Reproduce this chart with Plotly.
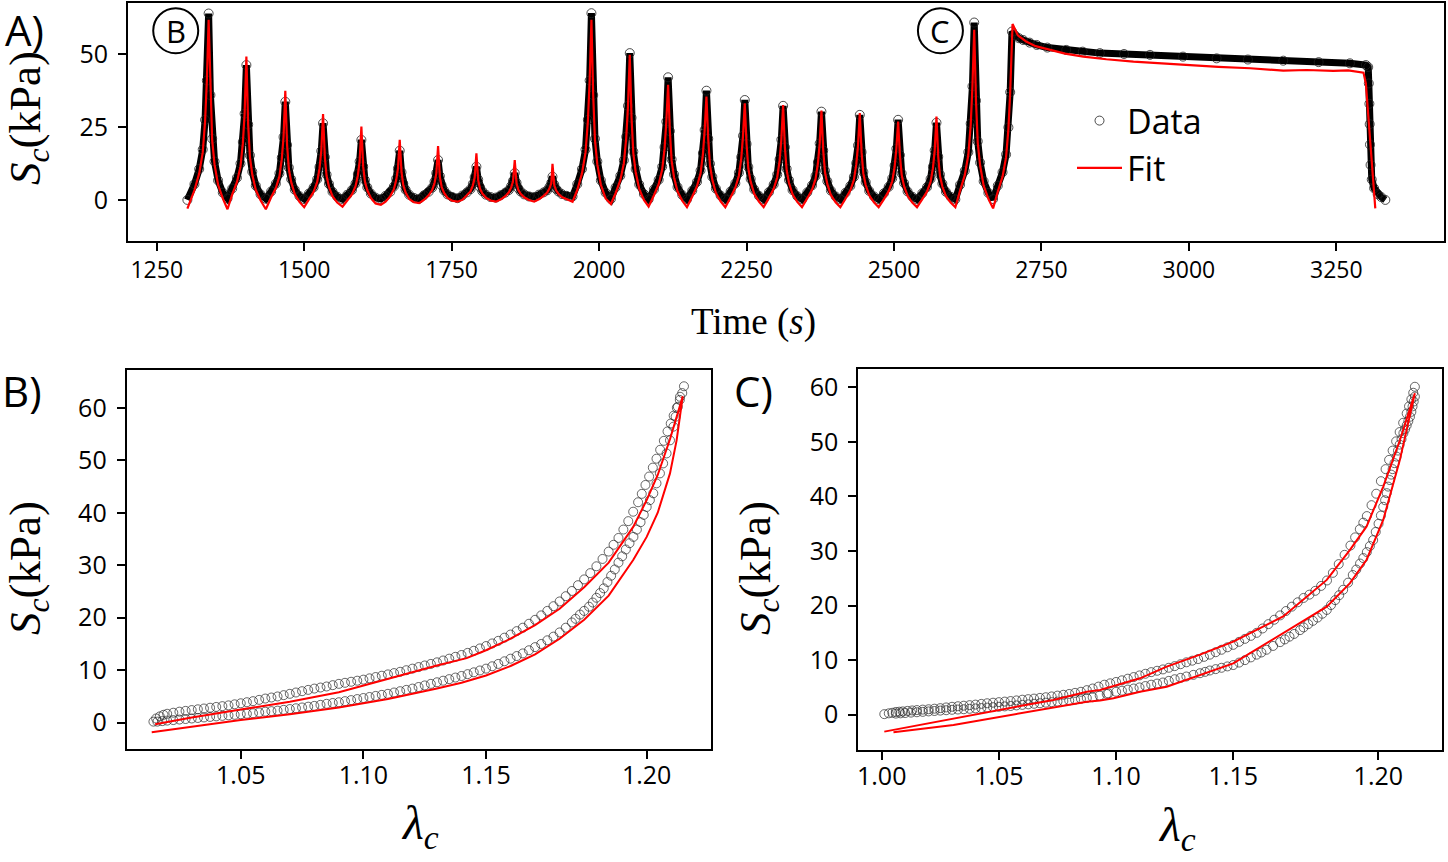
import plotly.graph_objects as go

W, H = 1448, 862

# ---------------- Panel A : stress vs time ----------------
time_data = [
    1302, 1314, 1322, 1328, 1332, 1335, 1338, 1341, 1344, 1348, 1354, 1362, 1370,
    1378, 1386, 1392, 1396, 1399, 1402, 1405, 1408, 1412, 1418, 1426, 1435,
    1444, 1452, 1458, 1462, 1465, 1468, 1471, 1474, 1478, 1484, 1492, 1500,
    1508, 1516, 1522, 1526, 1529, 1532, 1535, 1538, 1542, 1548, 1556, 1565,
    1573, 1581, 1587, 1591, 1594, 1597, 1600, 1603, 1607, 1613, 1621, 1630,
    1638, 1646, 1652, 1656, 1659, 1662, 1665, 1668, 1672, 1678, 1686, 1695,
    1703, 1711, 1717, 1721, 1724, 1727, 1730, 1733, 1737, 1743, 1751, 1760,
    1768, 1776, 1782, 1786, 1789, 1792, 1795, 1798, 1802, 1808, 1816, 1825,
    1833, 1841, 1847, 1851, 1854, 1857, 1860, 1863, 1867, 1873, 1881, 1890,
    1898, 1906, 1912, 1916, 1919, 1921, 1924, 1927, 1931, 1937, 1945, 1955,
    1963, 1971, 1977, 1981, 1984, 1987, 1990, 1993, 1997, 2003, 2011, 2020,
    2028, 2036, 2042, 2046, 2049, 2052, 2055, 2058, 2062, 2068, 2076, 2084,
    2093, 2101, 2107, 2111, 2114, 2117, 2120, 2123, 2127, 2133, 2141, 2149,
    2158, 2166, 2172, 2176, 2179, 2182, 2185, 2188, 2192, 2198, 2206, 2214,
    2223, 2231, 2237, 2241, 2244, 2247, 2250, 2253, 2257, 2263, 2271, 2279,
    2288, 2296, 2302, 2306, 2309, 2312, 2315, 2318, 2322, 2328, 2336, 2344,
    2353, 2361, 2367, 2371, 2374, 2377, 2380, 2383, 2387, 2393, 2401, 2409,
    2418, 2426, 2432, 2436, 2439, 2442, 2445, 2448, 2452, 2458, 2466, 2474,
    2483, 2491, 2497, 2501, 2504, 2507, 2510, 2513, 2517, 2523, 2531, 2539,
    2548, 2556, 2562, 2566, 2569, 2572, 2575, 2578, 2582, 2588, 2596, 2604,
    2612, 2620, 2626, 2630, 2633, 2636, 2639, 2642, 2646, 2652, 2660, 2668,
    2676, 2684, 2690, 2694, 2697, 2700,
    2705, 2712, 2719, 2730, 2742, 2760, 2792, 2820, 2849, 2890, 2934, 2990,
    3047, 3100, 3160, 3220, 3273, 3300, 3304,
    3305, 3306, 3306.5, 3307, 3308, 3310, 3314, 3320, 3326, 3333,
]
stress_data = [
    0.0, 5.4, 10.6, 17.3, 27.5, 41.0, 64.0, 36.0, 21.0, 13.2, 6.7, 2.5, 0.5,
    3.9, 7.6, 12.5, 19.9, 29.6, 46.3, 25.9, 15.3, 9.7, 4.9, 1.9, 0.4,
    2.9, 5.6, 9.1, 14.5, 21.6, 33.7, 18.9, 11.1, 7.1, 3.5, 1.3, 0.3,
    2.2, 4.3, 7.1, 11.3, 16.8, 26.3, 14.7, 8.7, 5.5, 2.8, 1.1, 0.3,
    1.8, 3.4, 5.6, 8.9, 13.2, 20.6, 11.5, 6.8, 4.3, 2.2, 0.8, 0.3,
    1.4, 2.8, 4.6, 7.3, 10.8, 16.9, 9.5, 5.6, 3.5, 1.8, 0.7, 0.4,
    1.6, 2.8, 4.2, 6.3, 9.2, 13.7, 8.2, 5.0, 3.3, 1.9, 1.0, 0.6,
    1.5, 2.6, 3.7, 5.5, 7.8, 11.4, 7.0, 4.4, 3.0, 1.8, 1.0, 0.8,
    1.6, 2.5, 3.4, 4.8, 6.5, 9.2, 5.9, 4.0, 2.9, 1.9, 1.2, 1.0,
    1.8, 2.6, 3.3, 4.5, 5.9, 8.0, 5.3, 3.8, 2.9, 2.0, 1.4, 1.2,
    5.4, 10.6, 17.3, 27.5, 41.0, 64.1, 36.0, 21.0, 13.2, 6.7, 2.5, 0.3,
    4.3, 8.3, 13.6, 21.7, 32.3, 50.4, 28.2, 16.6, 10.6, 5.3, 2.0, 0.2,
    3.6, 6.9, 11.4, 18.1, 26.9, 42.1, 23.6, 13.9, 8.8, 4.4, 1.7, 0.2,
    3.2, 6.2, 10.1, 16.1, 24.0, 37.5, 21.0, 12.4, 7.9, 3.9, 1.5, 0.2,
    2.9, 5.7, 9.3, 14.7, 22.0, 34.3, 19.2, 11.3, 7.2, 3.6, 1.4, 0.2,
    2.7, 5.3, 8.7, 13.9, 20.7, 32.3, 18.1, 10.7, 6.8, 3.4, 1.3, 0.2,
    2.6, 5.0, 8.2, 13.0, 19.4, 30.3, 17.0, 10.0, 6.4, 3.2, 1.2, 0.2,
    2.5, 4.8, 7.9, 12.6, 18.7, 29.2, 16.4, 9.6, 6.1, 3.1, 1.2, 0.2,
    2.3, 4.5, 7.4, 11.8, 17.6, 27.5, 15.4, 9.1, 5.8, 2.9, 1.1, 0.2,
    2.3, 4.4, 7.2, 11.4, 17.0, 26.5, 14.8, 8.7, 5.6, 2.8, 1.1, 0.2,
    5.2, 10.0, 16.4, 26.2, 39.0, 60.9, 34.1, 20.1, 12.8, 6.4, 2.4, 0.3,
    4.9, 9.5, 15.6, 24.9, 37.0, 57.8,
    56.5, 55.5, 54.9, 54.0, 53.2, 52.3, 51.5, 50.9, 50.4, 50.1, 49.8, 49.2,
    48.6, 48.2, 47.8, 47.3, 46.9, 46.3, 45.6,
    40.0, 33.0, 26.0, 19.0, 12.0, 7.0, 4.0, 2.0, 1.0, 0.0,
]
time_fit = [
    1302, 1314, 1322, 1328, 1332, 1335, 1338, 1341, 1344, 1348, 1354, 1362, 1370,
    1378, 1386, 1392, 1396, 1399, 1402, 1405, 1408, 1412, 1418, 1426, 1435,
    1444, 1452, 1458, 1462, 1465, 1468, 1471, 1474, 1478, 1484, 1492, 1500,
    1508, 1516, 1522, 1526, 1529, 1532, 1535, 1538, 1542, 1548, 1556, 1565,
    1573, 1581, 1587, 1591, 1594, 1597, 1600, 1603, 1607, 1613, 1621, 1630,
    1638, 1646, 1652, 1656, 1659, 1662, 1665, 1668, 1672, 1678, 1686, 1695,
    1703, 1711, 1717, 1721, 1724, 1727, 1730, 1733, 1737, 1743, 1751, 1760,
    1768, 1776, 1782, 1786, 1789, 1792, 1795, 1798, 1802, 1808, 1816, 1825,
    1833, 1841, 1847, 1851, 1854, 1857, 1860, 1863, 1867, 1873, 1881, 1890,
    1898, 1906, 1912, 1916, 1919, 1921, 1924, 1927, 1931, 1937, 1945, 1955,
    1963, 1971, 1977, 1981, 1984, 1987, 1990, 1993, 1997, 2003, 2011, 2020,
    2028, 2036, 2042, 2046, 2049, 2052, 2055, 2058, 2062, 2068, 2076, 2084,
    2093, 2101, 2107, 2111, 2114, 2117, 2120, 2123, 2127, 2133, 2141, 2149,
    2158, 2166, 2172, 2176, 2179, 2182, 2185, 2188, 2192, 2198, 2206, 2214,
    2223, 2231, 2237, 2241, 2244, 2247, 2250, 2253, 2257, 2263, 2271, 2279,
    2288, 2296, 2302, 2306, 2309, 2312, 2315, 2318, 2322, 2328, 2336, 2344,
    2353, 2361, 2367, 2371, 2374, 2377, 2380, 2383, 2387, 2393, 2401, 2409,
    2418, 2426, 2432, 2436, 2439, 2442, 2445, 2448, 2452, 2458, 2466, 2474,
    2483, 2491, 2497, 2501, 2504, 2507, 2510, 2513, 2517, 2523, 2531, 2539,
    2548, 2556, 2562, 2566, 2569, 2572, 2575, 2578, 2582, 2588, 2596, 2604,
    2612, 2620, 2626, 2630, 2633, 2636, 2639, 2642, 2646, 2652, 2660, 2668,
    2676, 2684, 2690, 2694, 2697, 2701,
    2710, 2724, 2740, 2764, 2790, 2821, 2860, 2906, 2950, 2990, 3050, 3104,
    3160, 3200, 3245, 3270, 3296,
    3300, 3304, 3308, 3312, 3316,
]
stress_fit = [
    -3.0, 3.4, 9.1, 16.3, 27.0, 41.0, 61.8, 36.0, 20.5, 12.2, 5.2, 0.5, -3.2,
    1.9, 6.1, 11.5, 19.4, 29.6, 49.2, 25.9, 14.8, 8.7, 3.4, -0.1, -3.2,
    0.9, 4.1, 8.1, 14.0, 21.6, 37.5, 18.9, 10.6, 6.1, 2.0, -0.7, -2.5,
    0.2, 2.8, 6.1, 10.8, 16.8, 29.5, 14.7, 8.2, 4.5, 1.3, -0.9, -2.3,
    -0.2, 1.9, 4.6, 8.4, 13.2, 25.2, 11.5, 6.3, 3.3, 0.7, -1.2, -1.7,
    -0.6, 1.3, 3.6, 6.8, 10.8, 20.6, 9.5, 5.1, 2.5, 0.3, -0.8, -1.1,
    0.0, 1.6, 3.4, 5.8, 9.0, 18.5, 8.0, 4.5, 2.5, 0.7, -0.3, -0.6,
    0.0, 1.5, 2.9, 5.0, 7.6, 16.0, 6.8, 3.9, 2.2, 0.8, -0.2, -0.6,
    0.1, 1.3, 2.6, 4.3, 6.3, 13.7, 5.7, 3.5, 2.1, 0.9, 0.0, -0.6,
    0.2, 1.4, 2.5, 4.0, 5.7, 12.4, 5.1, 3.3, 2.1, 1.0, 0.2, -0.6,
    3.4, 9.1, 16.3, 27.0, 41.0, 61.8, 36.0, 20.5, 12.2, 5.2, 0.5, -1.4,
    2.3, 6.8, 12.6, 21.2, 32.3, 49.8, 28.2, 16.1, 9.6, 3.8, 0.0, -2.3,
    1.6, 5.4, 10.4, 17.6, 26.9, 39.5, 23.6, 13.4, 7.8, 2.9, -0.3, -2.5,
    1.2, 4.7, 9.1, 15.6, 24.0, 35.5, 21.0, 11.9, 6.9, 2.4, -0.5, -2.5,
    0.9, 4.2, 8.3, 14.2, 22.0, 33.2, 19.2, 10.8, 6.2, 2.1, -0.6, -2.5,
    0.7, 3.8, 7.7, 13.4, 20.7, 32.6, 18.1, 10.2, 5.8, 1.9, -0.7, -2.5,
    0.6, 3.5, 7.2, 12.5, 19.4, 30.7, 17.0, 9.5, 5.4, 1.7, -0.8, -2.5,
    0.5, 3.3, 6.9, 12.1, 18.7, 29.8, 16.4, 9.1, 5.1, 1.6, -0.8, -2.5,
    0.3, 3.0, 6.4, 11.3, 17.6, 26.9, 15.4, 8.6, 4.8, 1.4, -0.9, -2.5,
    0.3, 2.9, 6.2, 10.9, 17.0, 28.6, 14.8, 8.2, 4.6, 1.3, -0.9, -2.5,
    3.2, 8.5, 15.4, 25.7, 39.0, 58.4, 34.1, 19.6, 11.8, 4.9, 0.4, -2.9,
    2.9, 8.0, 14.6, 24.4, 37.0, 60.4,
    56.5, 54.4, 52.8, 51.5, 50.2, 49.2, 48.3, 47.5, 46.9, 46.3, 45.7, 45.2,
    44.4, 44.6, 44.3, 44.5, 43.7,
    40.0, 30.0, 18.0, 8.0, -2.9,
]

# ---------------- Panel B : loop (first cycle) ----------------
lam_B_up = [
    1.0144, 1.0155, 1.0170, 1.0185, 1.0200, 1.0225, 1.0250, 1.0275, 1.0300, 1.0325,
    1.0350, 1.0375, 1.0400, 1.0425, 1.0450, 1.0475, 1.0500, 1.0525, 1.0550, 1.0575,
    1.0600, 1.0625, 1.0650, 1.0675, 1.0700, 1.0725, 1.0750, 1.0775, 1.0800, 1.0825,
    1.0850, 1.0875, 1.0900, 1.0925, 1.0950, 1.0975, 1.1000, 1.1025, 1.1050, 1.1075,
    1.1100, 1.1125, 1.1150, 1.1175, 1.1200, 1.1225, 1.1250, 1.1275, 1.1300, 1.1325,
    1.1350, 1.1375, 1.1400, 1.1425, 1.1450, 1.1475, 1.1500, 1.1525, 1.1550, 1.1575,
    1.1600, 1.1625, 1.1650, 1.1675, 1.1700, 1.1725, 1.1750, 1.1775, 1.1800, 1.1825,
    1.1850, 1.1875, 1.1900, 1.1925, 1.1950, 1.1975, 1.2000, 1.2020, 1.2040, 1.2060,
    1.2080, 1.2100, 1.2120, 1.2135, 1.2150, 1.2165, 1.2180, 1.2195, 1.2210, 1.2225,
    1.2240, 1.2253, 1.2265, 1.2278, 1.2290, 1.2300, 1.2307,
]
S_B_up = [
    0.2, 0.8, 1.2, 1.5, 1.7, 1.9, 2.1, 2.25, 2.4, 2.55,
    2.7, 2.85, 3.0, 3.15, 3.3, 3.5, 3.7, 3.9, 4.1, 4.35,
    4.6, 4.8, 5.0, 5.25, 5.5, 5.75, 6.0, 6.25, 6.5, 6.7,
    6.9, 7.15, 7.4, 7.6, 7.8, 8.0, 8.2, 8.45, 8.7, 8.95,
    9.2, 9.45, 9.7, 10.0, 10.3, 10.6, 10.9, 11.2, 11.5, 11.85,
    12.2, 12.55, 12.9, 13.3, 13.7, 14.15, 14.6, 15.1, 15.6, 16.2,
    16.8, 17.45, 18.1, 18.85, 19.6, 20.45, 21.3, 22.2, 23.1, 24.1,
    25.1, 26.2, 27.3, 28.5, 29.8, 31.2, 32.6, 33.9, 35.2, 36.8,
    38.4, 40.2, 42.0, 43.6, 45.3, 46.9, 48.6, 50.3, 52.0, 53.7,
    55.5, 57.0, 58.5, 60.0, 61.5, 62.8, 64.1,
]
lam_B_down = [
    1.2291, 1.2282, 1.2273, 1.2264, 1.2250, 1.2236, 1.2222, 1.2209, 1.2195, 1.2182,
    1.2168, 1.2155, 1.2143, 1.2130, 1.2115, 1.2101, 1.2085, 1.2070, 1.2055, 1.2040,
    1.2025, 1.2010, 1.1995, 1.1980, 1.1965, 1.1950, 1.1935, 1.1920, 1.1900, 1.1883,
    1.1865, 1.1850, 1.1825, 1.1800, 1.1775, 1.1750, 1.1725, 1.1700, 1.1675, 1.1650,
    1.1625, 1.1600, 1.1575, 1.1550, 1.1525, 1.1500, 1.1475, 1.1450, 1.1425, 1.1400,
    1.1375, 1.1350, 1.1325, 1.1300, 1.1275, 1.1250, 1.1225, 1.1200, 1.1175, 1.1150,
    1.1125, 1.1100, 1.1075, 1.1050, 1.1025, 1.1000, 1.0975, 1.0950, 1.0925, 1.0900,
    1.0875, 1.0850, 1.0825, 1.0800, 1.0775, 1.0750, 1.0725, 1.0700, 1.0675, 1.0650,
    1.0625, 1.0600, 1.0575, 1.0550, 1.0525, 1.0500, 1.0475, 1.0450, 1.0425, 1.0400,
    1.0375, 1.0350, 1.0325, 1.0300, 1.0275, 1.0250, 1.0225, 1.0200, 1.0180, 1.0160,
]
S_B_down = [
    62.1, 60.2, 58.3, 56.4, 53.8, 51.3, 49.4, 47.5, 45.6, 43.7,
    42.4, 41.1, 39.6, 38.2, 36.8, 35.4, 34.2, 33.0, 31.7, 30.5,
    29.2, 28.0, 26.8, 25.6, 24.7, 23.8, 22.9, 22.1, 21.3, 20.6,
    19.8, 19.1, 18.1, 17.2, 16.4, 15.7, 15.0, 14.4, 13.8, 13.2,
    12.7, 12.2, 11.7, 11.2, 10.75, 10.3, 9.95, 9.6, 9.25, 8.9,
    8.6, 8.3, 8.0, 7.7, 7.4, 7.1, 6.8, 6.5, 6.25, 6.0,
    5.75, 5.5, 5.3, 5.1, 4.9, 4.7, 4.5, 4.3, 4.1, 3.9,
    3.75, 3.6, 3.4, 3.2, 3.05, 2.9, 2.75, 2.6, 2.45, 2.3,
    2.2, 2.1, 1.95, 1.8, 1.7, 1.6, 1.5, 1.4, 1.3, 1.2,
    1.1, 1.0, 0.9, 0.8, 0.7, 0.6, 0.5, 0.4, 0.3, 0.2,
]
lam_B_fit = [
    1.0151, 1.03, 1.05, 1.07, 1.09, 1.11, 1.13, 1.1421, 1.15, 1.16, 1.17, 1.18,
    1.19, 1.20, 1.21, 1.2155, 1.22, 1.225, 1.2302,
    1.2277, 1.225, 1.22, 1.2155, 1.21, 1.20, 1.19, 1.18, 1.17, 1.16, 1.15,
    1.14, 1.13, 1.11, 1.09, 1.07, 1.05, 1.03, 1.0137,
]
S_B_fit = [
    -0.3, 1.0, 2.5, 4.0, 5.8, 8.4, 10.9, 12.3, 13.8, 16.0, 18.6, 21.7,
    25.8, 30.5, 37.3, 42.4, 47.2, 54.0, 62.2,
    53.8, 47.5, 40.0, 35.4, 31.0, 24.2, 19.6, 16.0, 13.0, 10.8, 9.0,
    7.6, 6.5, 4.5, 2.9, 1.6, 0.5, -0.7, -1.8,
]
B_tick_pos = [1.05, 1.10, 1.15, 1.2155]
B_tick_text = ["1.05", "1.10", "1.15", "1.20"]

# ---------------- Panel C : loop (last cycle) ----------------
lam_C_up = [
    1.0011, 1.0030, 1.0045, 1.0060, 1.0075, 1.0090, 1.0110, 1.0130, 1.0150, 1.0175,
    1.0200, 1.0225, 1.0250, 1.0275, 1.0300, 1.0325, 1.0350, 1.0375, 1.0400, 1.0425,
    1.0450, 1.0475, 1.0500, 1.0525, 1.0550, 1.0575, 1.0600, 1.0625, 1.0650, 1.0675,
    1.0700, 1.0725, 1.0750, 1.0775, 1.0800, 1.0825, 1.0850, 1.0875, 1.0900, 1.0925,
    1.0950, 1.0975, 1.1000, 1.1025, 1.1050, 1.1075, 1.1100, 1.1125, 1.1150, 1.1175,
    1.1200, 1.1225, 1.1250, 1.1275, 1.1300, 1.1325, 1.1350, 1.1375, 1.1400, 1.1425,
    1.1450, 1.1475, 1.1500, 1.1525, 1.1550, 1.1575, 1.1600, 1.1625, 1.1650, 1.1675,
    1.1700, 1.1725, 1.1750, 1.1775, 1.1800, 1.1825, 1.1850, 1.1875, 1.1900, 1.1925,
    1.1950, 1.1975, 1.2000, 1.2020, 1.2040, 1.2055, 1.2070, 1.2090, 1.2110, 1.2130,
    1.2150, 1.2165, 1.2180, 1.2195, 1.2210, 1.2225, 1.2240, 1.2250, 1.2260, 1.2268,
    1.2275,
]
S_C_up = [
    0.1, 0.25, 0.35, 0.5, 0.55, 0.6, 0.7, 0.78, 0.85, 0.93,
    1.0, 1.1, 1.2, 1.33, 1.45, 1.55, 1.65, 1.75, 1.85, 1.98,
    2.1, 2.2, 2.3, 2.4, 2.5, 2.62, 2.75, 2.85, 2.95, 3.08,
    3.2, 3.35, 3.5, 3.65, 3.8, 4.0, 4.2, 4.5, 4.8, 5.15,
    5.5, 5.75, 6.0, 6.3, 6.6, 6.9, 7.2, 7.5, 7.8, 8.05,
    8.3, 8.6, 8.9, 9.25, 9.6, 9.9, 10.2, 10.6, 11.0, 11.45,
    11.9, 12.35, 12.8, 13.35, 13.9, 14.45, 15.0, 15.8, 16.6, 17.4,
    18.2, 19.0, 19.8, 20.6, 21.4, 22.0, 22.7, 23.6, 24.6, 26.0,
    27.6, 29.3, 31.0, 32.5, 34.0, 35.2, 36.4, 38.4, 40.5, 42.8,
    45.0, 46.7, 48.4, 50.1, 51.8, 53.5, 55.2, 56.5, 57.8, 59.0,
    60.1,
]
lam_C_down = [
    1.2275, 1.2270, 1.2265, 1.2260, 1.2254, 1.2247, 1.2240, 1.2233, 1.2226, 1.2218,
    1.2210, 1.2203, 1.2197, 1.2188, 1.2180, 1.2174, 1.2168, 1.2161, 1.2155, 1.2148,
    1.2140, 1.2130, 1.2120, 1.2108, 1.2097, 1.2083, 1.2070, 1.2055, 1.2041, 1.2025,
    1.2010, 1.1990, 1.1969, 1.1952, 1.1935, 1.1917, 1.1899, 1.1880, 1.1860, 1.1840,
    1.1820, 1.1800, 1.1785, 1.1760, 1.1740, 1.1720, 1.1700, 1.1670, 1.1642, 1.1620,
    1.1600, 1.1575, 1.1550, 1.1525, 1.1500, 1.1475, 1.1450, 1.1425, 1.1400, 1.1380,
    1.1358, 1.1330, 1.1300, 1.1275, 1.1250, 1.1225, 1.1200, 1.1175, 1.1150, 1.1125,
    1.1100, 1.1075, 1.1050, 1.1025, 1.1000, 1.0967, 1.0960, 1.0930, 1.0900, 1.0875,
    1.0850, 1.0825, 1.0800, 1.0775, 1.0750, 1.0725, 1.0700, 1.0675, 1.0650, 1.0625,
    1.0600, 1.0575, 1.0550, 1.0525, 1.0500, 1.0475, 1.0450, 1.0425, 1.0400, 1.0375,
    1.0350, 1.0325, 1.0300, 1.0275, 1.0250, 1.0225, 1.0200, 1.0175, 1.0150, 1.0125,
    1.0100, 1.0080, 1.0060,
]
S_C_down = [
    58.3, 57.4, 56.5, 55.5, 54.6, 53.8, 53.0, 52.3, 51.6, 50.5,
    49.5, 48.4, 47.3, 46.1, 45.0, 44.0, 43.0, 41.8, 40.6, 39.3,
    38.1, 36.5, 35.0, 33.5, 32.0, 30.9, 29.8, 28.7, 27.7, 26.6,
    25.6, 24.2, 22.9, 21.9, 21.0, 20.1, 19.2, 18.5, 17.8, 17.2,
    16.6, 16.0, 15.5, 14.8, 14.3, 13.8, 13.3, 12.6, 11.9, 11.4,
    11.0, 10.5, 10.0, 9.55, 9.1, 8.85, 8.6, 8.35, 8.1, 7.85,
    7.6, 7.3, 7.0, 6.75, 6.5, 6.2, 5.9, 5.7, 5.5, 5.25,
    5.0, 4.8, 4.6, 4.4, 4.2, 3.9, 3.8, 3.5, 3.2, 3.05,
    2.9, 2.75, 2.6, 2.5, 2.4, 2.3, 2.2, 2.1, 2.0, 1.9,
    1.8, 1.7, 1.6, 1.52, 1.45, 1.38, 1.3, 1.22, 1.15, 1.08,
    1.0, 0.95, 0.9, 0.82, 0.75, 0.68, 0.6, 0.52, 0.45, 0.38,
    0.3, 0.25, 0.2,
]
lam_C_fit = [
    1.0011, 1.0306, 1.0590, 1.0732, 1.0875, 1.0932, 1.1102, 1.1216, 1.1358, 1.1500,
    1.1713, 1.1899, 1.1998, 1.2069, 1.2140, 1.2211, 1.2275,
    1.2211, 1.2140, 1.2069, 1.1998, 1.1899, 1.1713, 1.1500, 1.1216, 1.1102, 1.0989,
    1.0932, 1.0875, 1.0590, 1.0306, 1.0050,
]
S_C_fit = [
    -3.1, -0.67, 1.59, 2.69, 4.2, 4.53, 6.67, 8.8, 11.0, 13.4,
    18.0, 24.7, 30.2, 34.5, 41.8, 50.3, 58.9,
    46.7, 35.7, 28.4, 24.1, 19.8, 14.9, 9.4, 5.13, 4.2, 3.0,
    2.6, 2.38, 0.25, -1.89, -3.2,
]
C_tick_pos = [1.00, 1.05, 1.10, 1.15, 1.2119]
C_tick_text = ["1.00", "1.05", "1.10", "1.15", "1.20"]

# ---------------- styling ----------------
RED = "#ff0000"
TICK_FONT = dict(family="Open Sans", size=25, color="black")
TOPX_FONT = dict(family="Open Sans", size=23, color="black")
SERIF = "Liberation Serif, DejaVu Serif, serif"
LOOP_MARKER = dict(symbol="circle-open", size=9, color="rgba(40,40,40,0.7)", line=dict(width=1))


def px(x):
    return x / W


def py(y):
    return 1 - y / H


fig = go.Figure()

# Panel A
fig.add_trace(go.Scatter(x=time_data, y=stress_data, mode="lines",
                         line=dict(color="black", width=7), showlegend=False,
                         hoverinfo="skip", xaxis="x", yaxis="y"))
fig.add_trace(go.Scatter(x=time_data, y=stress_data, mode="markers", name="Data",
                         marker=dict(symbol="circle-open", size=9, color="rgba(30,30,30,0.8)",
                                     line=dict(width=1)),
                         xaxis="x", yaxis="y"))
fig.add_trace(go.Scatter(x=time_fit, y=stress_fit, mode="lines", name="Fit",
                         line=dict(color=RED, width=2.2), xaxis="x", yaxis="y"))

# Panel B
fig.add_trace(go.Scatter(x=lam_B_up + lam_B_down, y=S_B_up + S_B_down, mode="markers",
                         showlegend=False, marker=LOOP_MARKER, xaxis="x2", yaxis="y2"))
fig.add_trace(go.Scatter(x=lam_B_fit, y=S_B_fit, mode="lines", showlegend=False,
                         line=dict(color=RED, width=2), xaxis="x2", yaxis="y2"))

# Panel C
fig.add_trace(go.Scatter(x=lam_C_up + lam_C_down, y=S_C_up + S_C_down, mode="markers",
                         showlegend=False, marker=LOOP_MARKER, xaxis="x3", yaxis="y3"))
fig.add_trace(go.Scatter(x=lam_C_fit, y=S_C_fit, mode="lines", showlegend=False,
                         line=dict(color=RED, width=2), xaxis="x3", yaxis="y3"))

axis_common = dict(showline=True, mirror=True, linecolor="black", linewidth=2,
                   ticks="outside", ticklen=8, tickwidth=1.5, tickcolor="black",
                   showgrid=False, zeroline=False)

fig.update_layout(
    width=W, height=H,
    margin=dict(l=0, r=0, t=0, b=0, autoexpand=False),
    paper_bgcolor="white", plot_bgcolor="white",
    xaxis=dict(domain=[px(128), px(1444.3)], range=[1201.3, 3433],
               tickvals=[1250, 1500, 1750, 2000, 2250, 2500, 2750, 3000, 3250],
               tickfont=TOPX_FONT, ticklabelstandoff=0, anchor="y", **axis_common),
    yaxis=dict(domain=[py(240.7), py(3.3)], range=[-14.0, 67.5],
               tickvals=[0, 25, 50], tickfont=TICK_FONT, ticklabelstandoff=5,
               anchor="x", **axis_common),
    xaxis2=dict(domain=[px(126.7), px(710.7)], range=[1.0035, 1.2416],
                tickvals=B_tick_pos, ticktext=B_tick_text, tickfont=TICK_FONT,
                ticklabelstandoff=-5, anchor="y2", **axis_common),
    yaxis2=dict(domain=[py(749.3), py(370)], range=[-5.07, 67.2],
                tickvals=[0, 10, 20, 30, 40, 50, 60], tickfont=TICK_FONT,
                ticklabelstandoff=5, anchor="x2", **axis_common),
    xaxis3=dict(domain=[px(858.3), px(1442.3)], range=[0.990, 1.2392],
                tickvals=C_tick_pos, ticktext=C_tick_text, tickfont=TICK_FONT,
                ticklabelstandoff=-5, anchor="y3", **axis_common),
    yaxis3=dict(domain=[py(750), py(369.3)], range=[-6.47, 63.3],
                tickvals=[0, 10, 20, 30, 40, 50, 60], tickfont=TICK_FONT,
                ticklabelstandoff=5, anchor="x3", **axis_common),
    legend=dict(x=px(1072), y=py(92), xanchor="left", yanchor="top",
                font=dict(family="Open Sans", size=34, color="black"),
                bgcolor="rgba(0,0,0,0)", borderwidth=0, itemwidth=45,
                tracegroupgap=0),
    showlegend=True,
)

ann = []
# panel letters
ann.append(dict(text="A)", x=px(24), y=1.0, xref="paper", yref="paper",
                xanchor="center", yanchor="top", showarrow=False, borderpad=0,
                font=dict(family="Open Sans", size=42, color="black")))
for txt, x, y in [("B)", 22, 390), ("C)", 753, 390)]:
    ann.append(dict(text=txt, x=px(x), y=py(y), xref="paper", yref="paper",
                    xanchor="center", yanchor="middle", showarrow=False,
                    font=dict(family="Open Sans", size=42, color="black")))
# y titles
for x, y in [(28, 118), (28, 568), (758, 568)]:
    ann.append(dict(text="<i>S</i><sub><i>c</i></sub>(kPa)", x=px(x), y=py(y),
                    xref="paper", yref="paper", textangle=-90, showarrow=False,
                    xanchor="center", yanchor="middle",
                    font=dict(family=SERIF, size=45, color="black")))
# x titles
ann.append(dict(text="Time (<i>s</i>)", x=px(753), y=py(322), xref="paper", yref="paper",
                showarrow=False, xanchor="center", yanchor="middle",
                font=dict(family=SERIF, size=37, color="black")))
for x, y in [(420, 826), (1177, 828)]:
    ann.append(dict(text="<i>λ</i><sub><i>c</i></sub>", x=px(x), y=py(y),
                    xref="paper", yref="paper", showarrow=False,
                    xanchor="center", yanchor="middle",
                    font=dict(family=SERIF, size=48, color="black")))
# circled markers in panel A
circle_marks = [("B", 1282.2, 58.1), ("C", 2578.7, 58.1)]
shapes = []
for txt, t, s in circle_marks:
    ann.append(dict(text=txt, x=t, y=s, xref="x", yref="y", showarrow=False,
                    xanchor="center", yanchor="middle",
                    font=dict(family="Open Sans", size=31, color="black")))
    shapes.append(dict(type="circle", xref="x", yref="y", xsizemode="pixel",
                       ysizemode="pixel", xanchor=t, yanchor=s,
                       x0=-22.5, x1=22.5, y0=-22.5, y1=22.5,
                       line=dict(color="black", width=2)))

fig.update_layout(annotations=ann, shapes=shapes)

fig.write_html("out.html", config={"displayModeBar": False},
               post_script="document.body.style.margin='0';document.body.style.overflow='hidden';")
